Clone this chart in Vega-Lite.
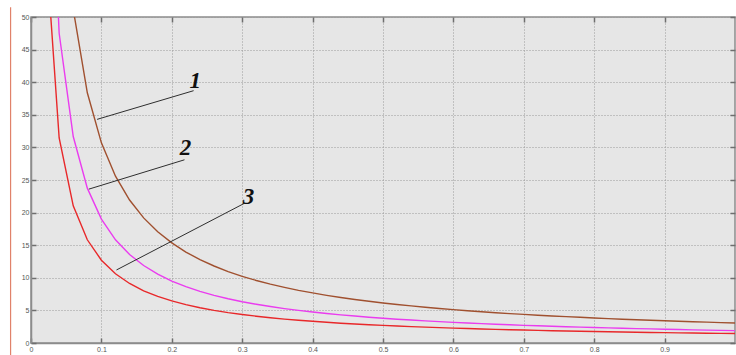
{
  "$schema": "https://vega.github.io/schema/vega-lite/v6.json",
  "width": 704,
  "height": 326,
  "autosize": {"type": "none"},
  "padding": {"left": 31, "top": 17, "right": 1, "bottom": 12},
  "background": "white",
  "config": {
    "view": {"fill": "#e6e6e6", "stroke": "#8c8c8c", "strokeWidth": 1.5},
    "axis": {
      "labelFont": "Liberation Sans",
      "labelFontSize": 7,
      "labelColor": "#555555",
      "domainColor": "#8c8c8c",
      "domainWidth": 1.5,
      "tickColor": "#6e6e6e",
      "tickSize": -5,
      "tickWidth": 1.5,
      "gridColor": "#9a9a9a",
      "gridDash": [1, 2],
      "gridWidth": 1,
      "title": null,
      "labelFlush": false,
      "labelOverlap": false,
      "format": "~g"
    }
  },
  "datasets": {
    "curves": [
      {"x":0.02,"curve":"1","y":153.5},{"x":0.04,"curve":"1","y":76.75},{"x":0.06,"curve":"1","y":51.17},{"x":0.08,"curve":"1","y":38.38},{"x":0.10,"curve":"1","y":30.7},{"x":0.12,"curve":"1","y":25.58},{"x":0.14,"curve":"1","y":21.93},{"x":0.16,"curve":"1","y":19.19},{"x":0.18,"curve":"1","y":17.06},{"x":0.20,"curve":"1","y":15.35},{"x":0.22,"curve":"1","y":13.95},{"x":0.24,"curve":"1","y":12.79},{"x":0.26,"curve":"1","y":11.81},{"x":0.28,"curve":"1","y":10.96},{"x":0.30,"curve":"1","y":10.23},{"x":0.32,"curve":"1","y":9.59},{"x":0.34,"curve":"1","y":9.03},{"x":0.36,"curve":"1","y":8.53},{"x":0.38,"curve":"1","y":8.08},{"x":0.40,"curve":"1","y":7.68},{"x":0.42,"curve":"1","y":7.31},{"x":0.44,"curve":"1","y":6.98},{"x":0.46,"curve":"1","y":6.67},{"x":0.48,"curve":"1","y":6.40},{"x":0.50,"curve":"1","y":6.14},{"x":0.52,"curve":"1","y":5.90},{"x":0.54,"curve":"1","y":5.69},{"x":0.56,"curve":"1","y":5.48},{"x":0.58,"curve":"1","y":5.29},{"x":0.60,"curve":"1","y":5.12},{"x":0.62,"curve":"1","y":4.95},{"x":0.64,"curve":"1","y":4.80},{"x":0.66,"curve":"1","y":4.65},{"x":0.68,"curve":"1","y":4.51},{"x":0.70,"curve":"1","y":4.39},{"x":0.72,"curve":"1","y":4.26},{"x":0.74,"curve":"1","y":4.15},{"x":0.76,"curve":"1","y":4.04},{"x":0.78,"curve":"1","y":3.94},{"x":0.80,"curve":"1","y":3.84},{"x":0.82,"curve":"1","y":3.74},{"x":0.84,"curve":"1","y":3.65},{"x":0.86,"curve":"1","y":3.57},{"x":0.88,"curve":"1","y":3.49},{"x":0.90,"curve":"1","y":3.41},{"x":0.92,"curve":"1","y":3.34},{"x":0.94,"curve":"1","y":3.27},{"x":0.96,"curve":"1","y":3.20},{"x":0.98,"curve":"1","y":3.13},{"x":1.00,"curve":"1","y":3.07},
      {"x":0.02,"curve":"2","y":95.0},{"x":0.04,"curve":"2","y":47.5},{"x":0.06,"curve":"2","y":31.67},{"x":0.08,"curve":"2","y":23.75},{"x":0.10,"curve":"2","y":19.0},{"x":0.12,"curve":"2","y":15.83},{"x":0.14,"curve":"2","y":13.57},{"x":0.16,"curve":"2","y":11.88},{"x":0.18,"curve":"2","y":10.56},{"x":0.20,"curve":"2","y":9.5},{"x":0.22,"curve":"2","y":8.64},{"x":0.24,"curve":"2","y":7.92},{"x":0.26,"curve":"2","y":7.31},{"x":0.28,"curve":"2","y":6.79},{"x":0.30,"curve":"2","y":6.33},{"x":0.32,"curve":"2","y":5.94},{"x":0.34,"curve":"2","y":5.59},{"x":0.36,"curve":"2","y":5.28},{"x":0.38,"curve":"2","y":5.0},{"x":0.40,"curve":"2","y":4.75},{"x":0.42,"curve":"2","y":4.52},{"x":0.44,"curve":"2","y":4.32},{"x":0.46,"curve":"2","y":4.13},{"x":0.48,"curve":"2","y":3.96},{"x":0.50,"curve":"2","y":3.8},{"x":0.52,"curve":"2","y":3.65},{"x":0.54,"curve":"2","y":3.52},{"x":0.56,"curve":"2","y":3.39},{"x":0.58,"curve":"2","y":3.28},{"x":0.60,"curve":"2","y":3.17},{"x":0.62,"curve":"2","y":3.06},{"x":0.64,"curve":"2","y":2.97},{"x":0.66,"curve":"2","y":2.88},{"x":0.68,"curve":"2","y":2.79},{"x":0.70,"curve":"2","y":2.71},{"x":0.72,"curve":"2","y":2.64},{"x":0.74,"curve":"2","y":2.57},{"x":0.76,"curve":"2","y":2.5},{"x":0.78,"curve":"2","y":2.44},{"x":0.80,"curve":"2","y":2.38},{"x":0.82,"curve":"2","y":2.32},{"x":0.84,"curve":"2","y":2.26},{"x":0.86,"curve":"2","y":2.21},{"x":0.88,"curve":"2","y":2.16},{"x":0.90,"curve":"2","y":2.11},{"x":0.92,"curve":"2","y":2.07},{"x":0.94,"curve":"2","y":2.02},{"x":0.96,"curve":"2","y":1.98},{"x":0.98,"curve":"2","y":1.94},{"x":1.00,"curve":"2","y":1.9},
      {"x":0.02,"curve":"3","y":62.7},{"x":0.04,"curve":"3","y":31.45},{"x":0.06,"curve":"3","y":21.03},{"x":0.08,"curve":"3","y":15.83},{"x":0.10,"curve":"3","y":12.7},{"x":0.12,"curve":"3","y":10.62},{"x":0.14,"curve":"3","y":9.13},{"x":0.16,"curve":"3","y":8.01},{"x":0.18,"curve":"3","y":7.14},{"x":0.20,"curve":"3","y":6.45},{"x":0.22,"curve":"3","y":5.88},{"x":0.24,"curve":"3","y":5.41},{"x":0.26,"curve":"3","y":5.01},{"x":0.28,"curve":"3","y":4.66},{"x":0.30,"curve":"3","y":4.37},{"x":0.32,"curve":"3","y":4.11},{"x":0.34,"curve":"3","y":3.88},{"x":0.36,"curve":"3","y":3.67},{"x":0.38,"curve":"3","y":3.49},{"x":0.40,"curve":"3","y":3.33},{"x":0.42,"curve":"3","y":3.18},{"x":0.44,"curve":"3","y":3.04},{"x":0.46,"curve":"3","y":2.92},{"x":0.48,"curve":"3","y":2.80},{"x":0.50,"curve":"3","y":2.70},{"x":0.52,"curve":"3","y":2.60},{"x":0.54,"curve":"3","y":2.51},{"x":0.56,"curve":"3","y":2.43},{"x":0.58,"curve":"3","y":2.36},{"x":0.60,"curve":"3","y":2.28},{"x":0.62,"curve":"3","y":2.22},{"x":0.64,"curve":"3","y":2.15},{"x":0.66,"curve":"3","y":2.09},{"x":0.68,"curve":"3","y":2.04},{"x":0.70,"curve":"3","y":1.99},{"x":0.72,"curve":"3","y":1.94},{"x":0.74,"curve":"3","y":1.89},{"x":0.76,"curve":"3","y":1.84},{"x":0.78,"curve":"3","y":1.80},{"x":0.80,"curve":"3","y":1.76},{"x":0.82,"curve":"3","y":1.72},{"x":0.84,"curve":"3","y":1.69},{"x":0.86,"curve":"3","y":1.65},{"x":0.88,"curve":"3","y":1.62},{"x":0.90,"curve":"3","y":1.59},{"x":0.92,"curve":"3","y":1.56},{"x":0.94,"curve":"3","y":1.53},{"x":0.96,"curve":"3","y":1.50},{"x":0.98,"curve":"3","y":1.48},{"x":1.00,"curve":"3","y":1.45}
    ],
    "leaders": [
      {"label":"1","x":0.0939,"y":34.3,"x2":0.231,"y2":38.7,"tx":0.2333,"ty":40.2},
      {"label":"2","x":0.0822,"y":23.6,"x2":0.218,"y2":28.1,"tx":0.2195,"ty":29.9},
      {"label":"3","x":0.1214,"y":11.2,"x2":0.3027,"y2":21.4,"tx":0.3088,"ty":22.4}
    ],
    "border": [
      {"x":-0.029,"y":51.5,"y2":-2.0}
    ]
  },
  "layer": [
    {
      "data": {"name": "curves"},
      "mark": {"type": "line", "clip": true, "strokeWidth": 1.4},
      "encoding": {
        "x": {"field": "x", "type": "quantitative",
              "scale": {"domain": [0, 1], "nice": false, "zero": false},
              "axis": {"values": [0,0.1,0.2,0.3,0.4,0.5,0.6,0.7,0.8,0.9], "labelPadding": 7, "grid": true}},
        "y": {"field": "y", "type": "quantitative",
              "scale": {"domain": [0, 50], "nice": false},
              "axis": {"values": [0,5,10,15,20,25,30,35,40,45,50], "labelPadding": 7, "grid": true}},
        "color": {"field": "curve", "type": "nominal",
                  "scale": {"domain": ["1","2","3"], "range": ["#a0502f", "#ea3cef", "#e8282a"]},
                  "legend": null}
      }
    },
    {
      "data": {"name": "leaders"},
      "mark": {"type": "rule", "color": "#2e2e2e", "strokeWidth": 1},
      "encoding": {
        "x": {"field": "x", "type": "quantitative",
              "axis": {"orient": "top", "values": [0,0.1,0.2,0.3,0.4,0.5,0.6,0.7,0.8,0.9], "labels": false, "grid": false, "domain": false}},
        "y": {"field": "y", "type": "quantitative",
              "axis": {"orient": "right", "values": [0,5,10,15,20,25,30,35,40,45,50], "labels": false, "grid": false, "domain": false}},
        "x2": {"field": "x2"},
        "y2": {"field": "y2"}
      }
    },
    {
      "data": {"name": "leaders"},
      "mark": {"type": "text", "font": "Liberation Serif", "fontSize": 23, "fontStyle": "italic", "fontWeight": "bold", "color": "#111111", "baseline": "middle", "align": "center"},
      "encoding": {
        "x": {"field": "tx", "type": "quantitative", "axis": null},
        "y": {"field": "ty", "type": "quantitative", "axis": null},
        "text": {"field": "label"}
      }
    },
    {
      "data": {"name": "border"},
      "mark": {"type": "rule", "color": "#e0826a", "strokeWidth": 1.2, "clip": false},
      "encoding": {
        "x": {"field": "x", "type": "quantitative", "axis": null},
        "y": {"field": "y", "type": "quantitative", "axis": null},
        "y2": {"field": "y2"}
      }
    }
  ],
  "resolve": {"axis": {"x": "independent", "y": "independent"}}
}
